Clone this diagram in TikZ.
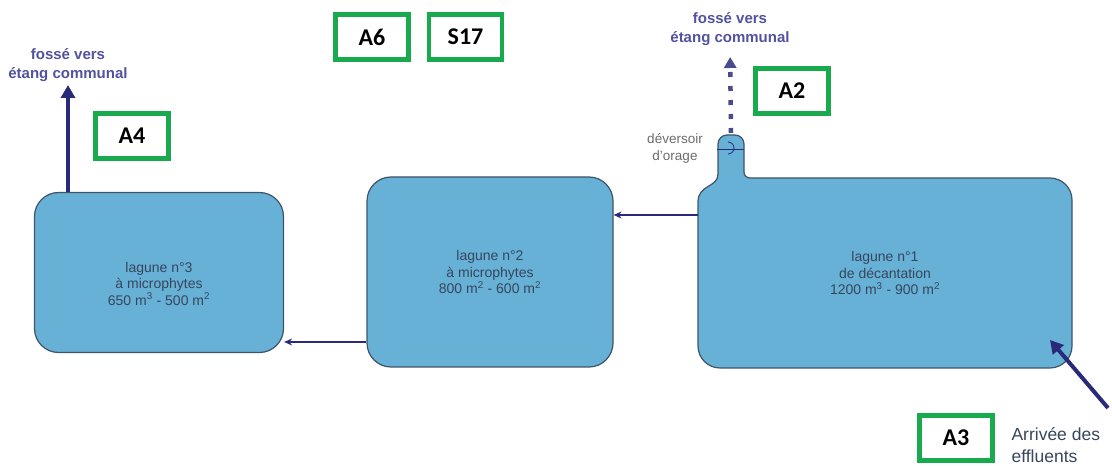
\documentclass[tikz,border=0pt]{standalone}
\usepackage{fontspec}
\setmainfont{Liberation Sans}
\newfontfamily\tagfont{Carlito}
\usepackage{tikz}
\usetikzlibrary{arrows.meta, positioning, calc}
\definecolor{lagoonBlue}{RGB}{103,176,214}
\definecolor{lagoonEdge}{RGB}{62,84,104}
\definecolor{flowBlue}{RGB}{42,42,122}
\definecolor{labelBlue}{RGB}{82,82,158}
\definecolor{tagGreen}{RGB}{26,170,78}
\definecolor{textSlate}{RGB}{55,70,92}

\begin{document}
\begin{tikzpicture}[x=1pt, y=1pt,
  lagune/.style={draw=lagoonEdge, line width=1.2pt, fill=lagoonBlue, rounded corners=24pt},
  lagtext/.style={align=center, text=textSlate, font=\fontsize{14}{16.5}\selectfont},
  tag/.style={draw=tagGreen, line width=4.5pt, minimum width=73pt, minimum height=45pt, font=\tagfont\bfseries\fontsize{24}{26}\selectfont},
  flow/.style={draw=flowBlue, line width=1.6pt, -{Stealth[length=8pt, width=7pt]}},
  bigflow/.style={draw=flowBlue, line width=4pt, -{Triangle[length=13pt, width=14pt]}},
  dotflow/.style={draw=flowBlue!85, line width=4.5pt, dash pattern=on 5pt off 9pt, -{Triangle[length=11pt, width=12pt]}},
  fosse/.style={align=center, text=labelBlue, font=\bfseries\fontsize{15}{19.5}\selectfont, inner sep=1pt}]

  \useasboundingbox (0,0) rectangle (1112,466);

  % Lagunes
  \node[lagune, minimum width=249pt, minimum height=160pt] (lag3) at (159,193.5) {};
  \node[lagune, minimum width=246pt, minimum height=190pt] (lag2) at (490,194) {};
  \draw[draw=lagoonEdge, line width=1.2pt, fill=lagoonBlue]
    (718,292) -- (718,322) arc[start angle=180, end angle=90, radius=9pt]
    -- (735,331) arc[start angle=90, end angle=0, radius=9pt]
    -- (744,294) arc[start angle=180, end angle=270, radius=6pt]
    -- (1050,288) arc[start angle=90, end angle=0, radius=22pt]
    -- (1072,120) arc[start angle=0, end angle=-90, radius=22pt]
    -- (720,98) arc[start angle=270, end angle=180, radius=22pt]
    -- (698,264) .. controls (698,282) and (718,278) .. (718,292) -- cycle;
  \node[minimum width=374pt, minimum height=190pt] (lag1) at (885,193) {};

  % Textes des lagunes
  \node[lagtext] (lag3txt) at ([yshift=-11pt]lag3.center) {lagune n°3\\à microphytes\\650 m\textsuperscript{3} - 500 m\textsuperscript{2}};
  \node[lagtext] (lag2txt) at (lag2.center) {lagune n°2\\à microphytes\\800 m\textsuperscript{2} - 600 m\textsuperscript{2}};
  \node[lagtext] (lag1txt) at (lag1.center) {lagune n°1\\de décantation\\1200 m\textsuperscript{3} - 900 m\textsuperscript{2}};

  % Deversoir
  \coordinate (weir) at (731,333);
  \draw[flowBlue, line width=0.8pt] (717,317) -- (744,317);
  \draw[flowBlue, line width=0.8pt] (728,324) arc[start angle=90, end angle=-90, radius=6pt];
  \node[align=center, text=gray!85!black, font=\fontsize{13.5}{17}\selectfont] (deversoir) at (675,318) {déversoir\\d'orage};

  % Sorties
  \node[fosse, anchor=south] (fosse3) at (68,383) {fossé vers\\étang communal};
  \node[fosse, anchor=south] (fosse1) at (730,419) {fossé vers\\étang communal};
  \draw[bigflow, shorten >=2pt] (lag3.north -| fosse3) -- (fosse3.south);
  \draw[dotflow, shorten >=10pt] (weir) -- (fosse1.south);

  % Circulation
  \draw[flow] ($(lag1.west)+(0,58)$) coordinate (o1) -- (o1 -| lag2.east);
  \draw[flow] ($(lag2.west)+(0,-70)$) coordinate (o2) -- (o2 -| lag3.east);

  % Arrivee
  \coordinate (inlet) at (1108,58);
  \coordinate (inletend) at (1050,126);
  \draw[bigflow] (inlet) -- (inletend);

  % Reperes
  \node[tag] (A6) at (372,429) {A6};
  \node[tag, right=16pt of A6] (S17) {S17};
  \node[tag] (A4) at (132,330) {A4};
  \node[tag] (A2) at (792,375) {A2};
  \node[tag] (A3) at (956,28) {A3};
  \node[anchor=north west, align=left, text=textSlate, font=\fontsize{17.5}{22}\selectfont] (arrivee) at (1008,42) {Arrivée des\\effluents};

\end{tikzpicture}
\end{document}
